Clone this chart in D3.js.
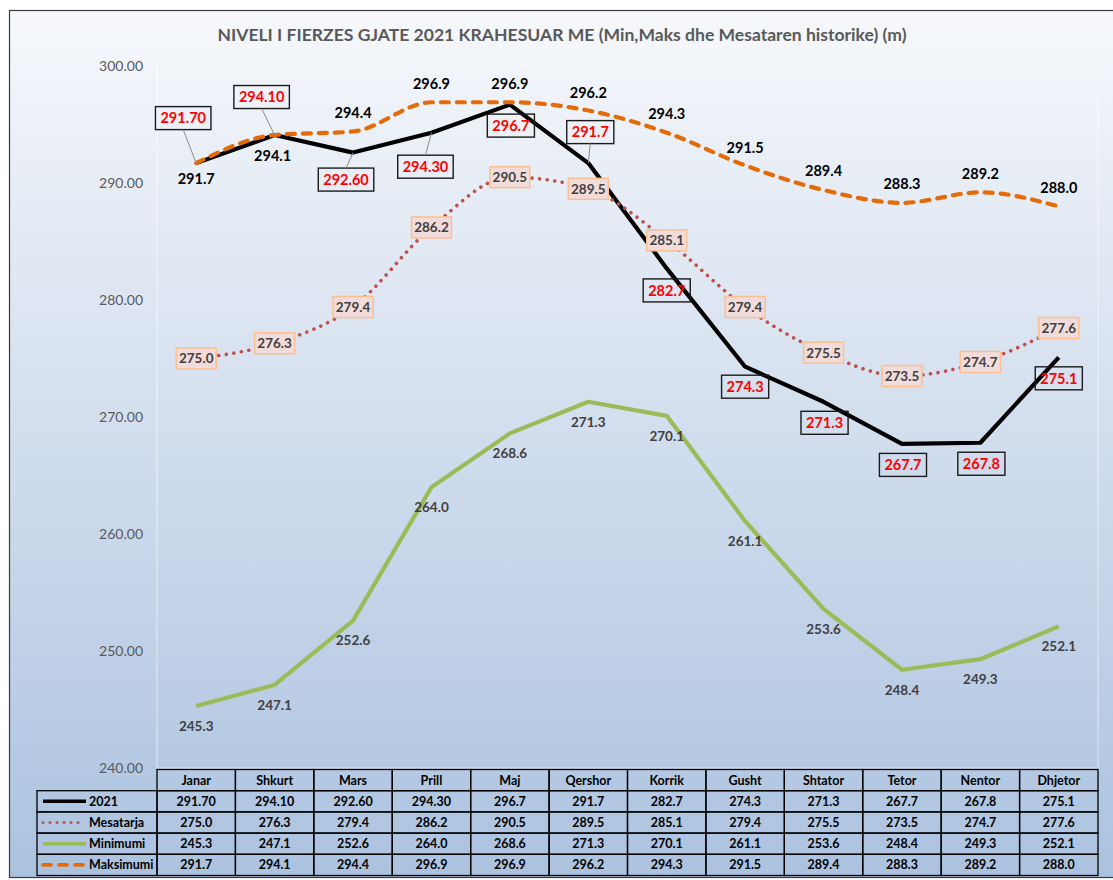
<!DOCTYPE html>
<html>
<head>
<meta charset="utf-8">
<script src="https://cdn.jsdelivr.net/npm/d3@7"></script>
<style>
  body { margin: 0; background: #fff; }
  svg { display: block; font-family: Lato, "Open Sans", sans-serif; }
</style>
</head>
<body>
<svg id="chart" width="1113" height="880"></svg>
<script>
"use strict";

var months = ["Janar", "Shkurt", "Mars", "Prill", "Maj", "Qershor", "Korrik", "Gusht", "Shtator", "Tetor", "Nentor", "Dhjetor"];
var v2021 = [291.7, 294.1, 292.6, 294.3, 296.7, 291.7, 282.7, 274.3, 271.3, 267.7, 267.8, 275.1];
var dec2021 = [2, 2, 2, 2, 1, 1, 1, 1, 1, 1, 1, 1];   // decimals as printed in the sheet
var mesatarja = [275.0, 276.3, 279.4, 286.2, 290.5, 289.5, 285.1, 279.4, 275.5, 273.5, 274.7, 277.6];
var minimumi = [245.3, 247.1, 252.6, 264.0, 268.6, 271.3, 270.1, 261.1, 253.6, 248.4, 249.3, 252.1];
var maksimumi = [291.7, 294.1, 294.4, 296.9, 296.9, 296.2, 294.3, 291.5, 289.4, 288.3, 289.2, 288.0];
var yTicks = [240, 250, 260, 270, 280, 290, 300];

var title = "NIVELI I FIERZES GJATE 2021 KRAHESUAR ME (Min,Maks dhe Mesataren historike) (m)";

// label placement (dx, dy from point, leader line flag)
var pos2021 = [[-13, -45, 1], [-13, -38, 1], [-7, 27, 1], [-6, 34, 1], [1, 21, 0], [2, -31, 1],
               [0, 22, 0], [0, 20, 0], [1, 21, 0], [1, 21, 0], [1, 21, 0], [0, 21, 0]];
var posMaks = [16, 21, -19, -18, -18, -18, -19, -18, -19, -19, -19, -19];

var svg = d3.select("#chart");
var margin = {left: 157, right: 1098, top: 66, bottom: 768};

// background
var defs = svg.append("defs");
var grad = defs.append("linearGradient").attr("id", "bg")
    .attr("x1", 0).attr("y1", 0).attr("x2", 0).attr("y2", 1);
grad.append("stop").attr("offset", "0%").attr("stop-color", "#f6f8fb");
grad.append("stop").attr("offset", "45%").attr("stop-color", "#d5e0ef");
grad.append("stop").attr("offset", "100%").attr("stop-color", "#abc2df");

svg.append("rect")
    .attr("x", 9.5).attr("y", 10.5)
    .attr("width", 1120).attr("height", 867)
    .attr("fill", "url(#bg)")
    .attr("stroke", "#3a3a3a").attr("stroke-width", 1.2);

// plot area frame
svg.append("rect")
    .attr("x", margin.left).attr("y", margin.top)
    .attr("width", margin.right - margin.left).attr("height", margin.bottom - margin.top)
    .attr("fill", "none").attr("stroke", "#ffffff").attr("stroke-opacity", 0.6);

// title
svg.append("text")
    .attr("x", 562).attr("y", 41)
    .attr("text-anchor", "middle")
    .attr("font-size", 17).attr("font-weight", "bold")
    .attr("fill", "#595959")
    .attr("textLength", 689).attr("lengthAdjust", "spacingAndGlyphs")
    .text(title);

// scales
var x = d3.scaleBand().domain(months).range([margin.left, margin.right]);
var bw = x.bandwidth();
var cx = function (m) { return x(m) + bw / 2; };
var y = d3.scaleLinear().domain([240, 300]).range([margin.bottom, margin.top]);

// y axis
var yAxis = d3.axisLeft(y).tickValues(yTicks).tickFormat(d3.format(".2f")).tickSize(0).tickPadding(0);
var ax = svg.append("g").attr("transform", "translate(143,0)").call(yAxis);
ax.select(".domain").remove();
ax.selectAll("text").attr("font-size", 14).attr("fill", "#595959")
    .attr("font-family", "Lato, 'Open Sans', sans-serif");

// series
var series = [
    {name: "2021", values: v2021, color: "#000000", width: 4.2, dash: null, cap: "butt", curve: d3.curveLinear},
    {name: "Mesatarja", values: mesatarja, color: "#c0504d", width: 3.6, dash: "0.01,7.6", cap: "round", curve: d3.curveMonotoneX},
    {name: "Minimumi", values: minimumi, color: "#9bbb59", width: 4.2, dash: null, cap: "butt", curve: d3.curveLinear},
    {name: "Maksimumi", values: maksimumi, color: "#e36c09", width: 4.2, dash: "8,8", cap: "round", curve: d3.curveMonotoneX}
];

var gLines = svg.append("g");
series.forEach(function (s) {
    var line = d3.line()
        .x(function (d, i) { return cx(months[i]); })
        .y(function (d) { return y(d); })
        .curve(s.curve);
    gLines.append("path")
        .attr("d", line(s.values))
        .attr("fill", "none")
        .attr("stroke", s.color)
        .attr("stroke-width", s.width)
        .attr("stroke-linecap", s.cap)
        .attr("stroke-linejoin", "round")
        .attr("stroke-dasharray", s.dash);
});

var gLab = svg.append("g").attr("font-weight", "bold");

// 2021 labels: red text in framed boxes, with leader lines
v2021.forEach(function (v, i) {
    var px = cx(months[i]), py = y(v);
    var p = pos2021[i];
    var lx = px + p[0], ly = py + p[1];
    var txt = v.toFixed(dec2021[i]);
    var t = gLab.append("text")
        .attr("x", lx).attr("y", ly).attr("dy", "0.36em")
        .attr("text-anchor", "middle")
        .attr("font-size", 14.5).attr("fill", "#ff0000")
        .text(txt);
    var w = t.node().getComputedTextLength() + 10, h = 23;
    gLab.insert("rect", "text")
        .attr("x", lx - w / 2).attr("y", ly - h / 2)
        .attr("width", w).attr("height", h)
        .attr("fill", "none").attr("stroke", "#1a1a1a").attr("stroke-width", 1.4);
    if (p[2]) {
        var ey = p[1] < 0 ? ly + h / 2 : ly - h / 2;
        gLab.append("line")
            .attr("x1", lx).attr("y1", ey)
            .attr("x2", px).attr("y2", py)
            .attr("stroke", "#8c8c8c").attr("stroke-width", 1);
    }
});

// Mesatarja labels: centred pink boxes
mesatarja.forEach(function (v, i) {
    var px = cx(months[i]), py = y(v);
    gLab.append("rect")
        .attr("x", px - 20).attr("y", py - 10.5)
        .attr("width", 40).attr("height", 21)
        .attr("fill", "#f2dcdb").attr("stroke", "#fac090").attr("stroke-width", 1.5);
    gLab.append("text")
        .attr("x", px).attr("y", py).attr("dy", "0.36em")
        .attr("text-anchor", "middle")
        .attr("font-size", 13.5).attr("fill", "#404040")
        .text(v.toFixed(1));
});

// Minimumi labels below
minimumi.forEach(function (v, i) {
    gLab.append("text")
        .attr("x", cx(months[i])).attr("y", y(v) + 20).attr("dy", "0.36em")
        .attr("text-anchor", "middle")
        .attr("font-size", 13.5).attr("fill", "#404040")
        .text(v.toFixed(1));
});

// Maksimumi labels
maksimumi.forEach(function (v, i) {
    gLab.append("text")
        .attr("x", cx(months[i]) + (i === 1 ? -2 : 0)).attr("y", y(v) + posMaks[i]).attr("dy", "0.36em")
        .attr("text-anchor", "middle")
        .attr("font-size", 14.5).attr("fill", "#000000")
        .text(v.toFixed(1));
});

// data table
var tableTop = 769.5, rowH = 21.2, legX = 37;
var gT = svg.append("g").attr("font-weight", "bold").attr("font-size", 12.5).attr("fill", "#000");
var cellStroke = function (sel) {
    return sel.attr("fill", "none").attr("stroke", "#000").attr("stroke-width", 1.3);
};

months.forEach(function (m) {
    cellStroke(gT.append("rect").attr("x", x(m)).attr("y", tableTop).attr("width", bw).attr("height", rowH));
    gT.append("text").attr("x", cx(m)).attr("y", tableTop + rowH / 2).attr("dy", "0.36em")
        .attr("text-anchor", "middle").text(m);
});

series.forEach(function (s, r) {
    var ry = tableTop + rowH * (r + 1);
    cellStroke(gT.append("rect").attr("x", legX).attr("y", ry).attr("width", margin.left - legX).attr("height", rowH));
    gT.append("line")
        .attr("x1", 43).attr("x2", s.dash ? 83 : 86)
        .attr("y1", ry + rowH / 2).attr("y2", ry + rowH / 2)
        .attr("stroke", s.color).attr("stroke-width", s.width - 0.6)
        .attr("stroke-linecap", s.cap)
        .attr("stroke-dasharray", s.dash ? (r === 1 ? "0.01,7" : "8,8") : null);
    gT.append("text").attr("x", 89).attr("y", ry + rowH / 2).attr("dy", "0.36em").text(s.name);
    s.values.forEach(function (v, i) {
        var m = months[i];
        cellStroke(gT.append("rect").attr("x", x(m)).attr("y", ry).attr("width", bw).attr("height", rowH));
        gT.append("text").attr("x", cx(m)).attr("y", ry + rowH / 2).attr("dy", "0.36em")
            .attr("text-anchor", "middle")
            .text(r === 0 ? v.toFixed(dec2021[i]) : v.toFixed(1));
    });
});
</script>
</body>
</html>
